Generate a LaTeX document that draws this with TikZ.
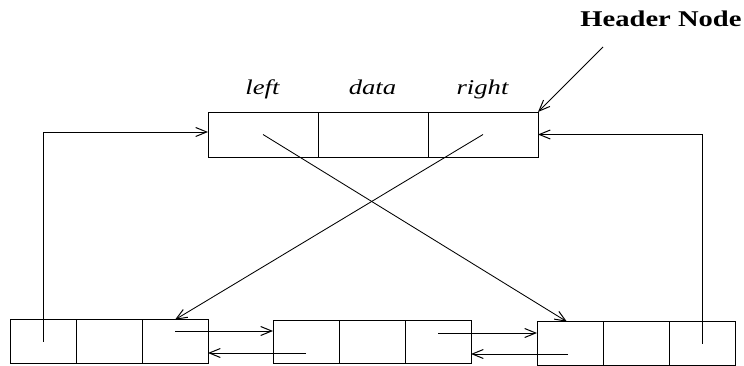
\documentclass[tikz,border=0pt]{standalone}
\usepackage{fontspec}
\setmainfont{Liberation Serif}
\newfontfamily\lblfont[FakeStretch=1.27]{Liberation Serif}
\usetikzlibrary{arrows.meta}
\tikzset{
  cellA/.style={draw, line width=0.95pt, minimum width=110pt, minimum height=45pt, inner sep=0pt, outer sep=0pt},
  cellB/.style={draw, line width=0.95pt, minimum width=66pt, minimum height=43.5pt, inner sep=0pt, outer sep=0pt},
  arr/.style={line width=0.85pt, -{Straight Barb[length=11pt,width=9pt,line width=1pt]}},
  fieldlbl/.style={anchor=base, inner sep=0pt, font=\lblfont\itshape\fontsize{21}{25}\selectfont},
  hdrlbl/.style={anchor=base, inner sep=0pt, font=\lblfont\bfseries\fontsize{22.5}{27}\selectfont}
}
\begin{document}
\begin{tikzpicture}[x=1pt,y=-1pt]
\useasboundingbox (0,0) rectangle (744,366);
% header record
\node[cellA] (Hl) at (263,134.5) {};
\node[cellA] (Hd) at (373,134.5) {};
\node[cellA] (Hr) at (483,134.5) {};
% field labels
\node[fieldlbl] (tl) at (262.5,95) {left};
\node[fieldlbl] (td) at (372.5,95) {data};
\node[fieldlbl] (tr) at (482.5,95) {right};
\node[hdrlbl] (hdr) at (661,27) {Header Node};
\coordinate (hdrtail) at (603,47);
% left record
\node[cellB] (Ll) at (43,341.5) {};
\node[cellB] (Ld) at (109,341.5) {};
\node[cellB] (Lr) at (175,341.5) {};
% middle record
\node[cellB] (Ml) at (306,342) {};
\node[cellB] (Md) at (372,342) {};
\node[cellB] (Mr) at (438,342) {};
% right record
\node[cellB] (Rl) at (570,343.5) {};
\node[cellB] (Rd) at (636,343.5) {};
\node[cellB] (Rr) at (702,343.5) {};
% link start points inside cells
\coordinate (LrOut) at ([yshift=10.5pt]Lr.center);
\coordinate (MlOut) at ([yshift=-11pt]Ml.center);
\coordinate (MrOut) at ([yshift=9pt]Mr.center);
\coordinate (RlOut) at ([xshift=-2pt,yshift=-10.5pt]Rl.center);
\coordinate (HlIn) at ([yshift=2.5pt]Hl.west);
\coordinate (RlTop) at ([xshift=-3pt]Rl.north);
% header label arrow
\draw[arr] (hdrtail) -- (Hr.north east);
% outer loops
\draw[arr] (Ll.center) |- (HlIn);
\draw[arr] (Rr.center) |- (Hr.east);
% crossing links
\draw[arr] (Hl.center) -- (RlTop);
\draw[arr] (Hr.center) -- (Lr.north);
% bottom links
\draw[arr] (LrOut) -- (Ml.west |- LrOut);
\draw[arr] (MlOut) -- (Lr.east |- MlOut);
\draw[arr] (MrOut) -- (Rl.west |- MrOut);
\draw[arr] (RlOut) -- (Mr.east |- RlOut);
\end{tikzpicture}
\end{document}
